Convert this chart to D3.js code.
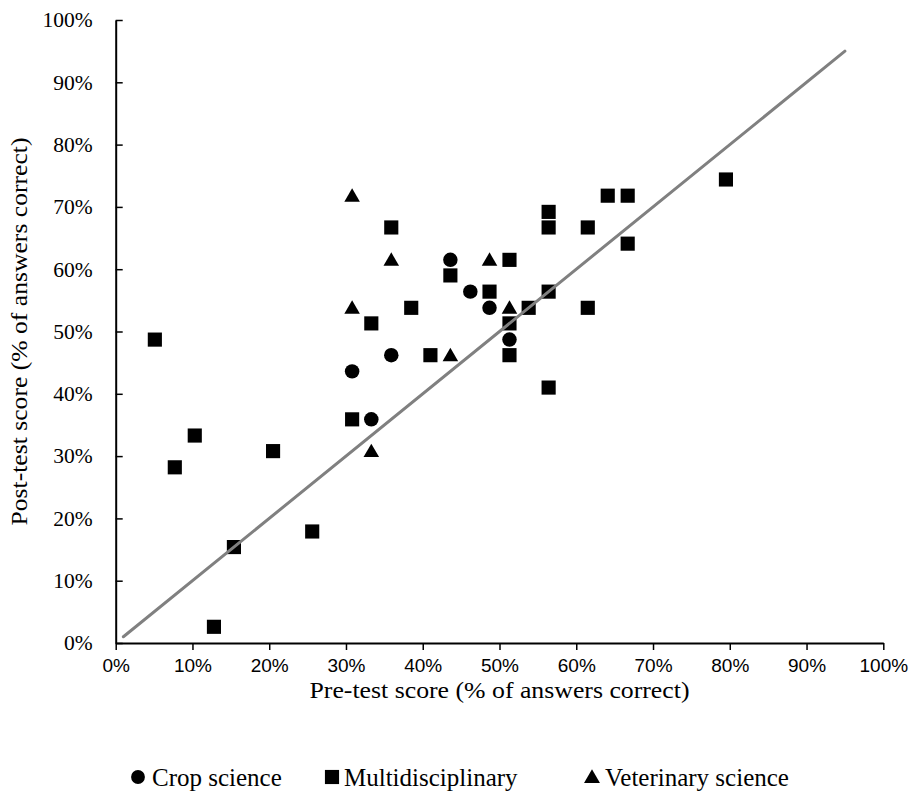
<!DOCTYPE html>
<html>
<head>
<meta charset="utf-8">
<script src="https://cdn.jsdelivr.net/npm/d3@7"></script>
<style>
  body { margin: 0; background: #fff; }
</style>
</head>
<body>
<div id="output"></div>
<script>
// Pre-test vs post-test scores (% of answers correct), by group
const cropPre  = [43.6, 46.2, 48.7, 51.3, 35.9, 30.8, 33.3];
const cropPost = [61.5, 56.4, 53.8, 48.7, 46.2, 43.6, 35.9];

const multiPre  = [5.1, 10.3, 7.7, 20.5, 15.4, 25.6, 12.8, 35.9, 43.6, 51.3, 56.4, 56.4, 48.7, 56.4,
                   38.5, 53.8, 33.3, 51.3, 51.3, 41.0, 56.4, 30.8, 79.5, 64.1, 66.7, 61.5, 66.7, 61.5];
const multiPost = [48.7, 33.3, 28.2, 30.8, 15.4, 17.9, 2.6, 66.7, 59.0, 61.5, 69.2, 66.7, 56.4, 56.4,
                   53.8, 53.8, 51.3, 51.3, 46.2, 46.2, 41.0, 35.9, 74.4, 71.8, 71.8, 66.7, 64.1, 53.8];

const vetPre  = [30.8, 35.9, 48.7, 30.8, 51.3, 43.6, 33.3];
const vetPost = [71.8, 61.5, 61.5, 53.8, 53.8, 46.2, 30.8];

// reference line y = x
const refLine = [1, 95];

const tickValues = [0, 10, 20, 30, 40, 50, 60, 70, 80, 90, 100];
const seriesNames = ["Crop science", "Multidisciplinary", "Veterinary science"];

function PlotGraph(parent_element = "output") {
  const width = 910, height = 793;
  const serif = "'Liberation Serif', 'Times New Roman', serif";
  const sans = "'Liberation Sans', Arial, sans-serif";

  const x = d3.scaleLinear().domain([0, 100]).range([115.7, 883.3]);
  const y = d3.scaleLinear().domain([0, 100]).range([643, 20]);

  const svg = d3.select("#" + parent_element).append("svg")
    .attr("width", width)
    .attr("height", height);

  // markers
  const shapes = [d3.symbolCircle, d3.symbolSquare, d3.symbolTriangle];
  const sizes = [165, 200, 105];
  const series = [
    {pre: cropPre, post: cropPost},
    {pre: multiPre, post: multiPost},
    {pre: vetPre, post: vetPost}
  ];

  series.forEach((s, k) => {
    const pts = s.pre.map((v, i) => [v, s.post[i]]);
    svg.append("g").selectAll("path")
      .data(pts)
      .enter().append("path")
      .attr("d", d3.symbol().type(shapes[k]).size(sizes[k]))
      .attr("transform", d => `translate(${x(d[0])},${y(d[1])})` + (k === 2 ? " translate(0,1.5)" : ""))
      .attr("fill", "#000");
  });

  // reference line
  svg.append("path")
    .datum(refLine)
    .attr("d", d3.line().x(d => x(d)).y(d => y(d)))
    .attr("fill", "none")
    .attr("stroke", "#808080")
    .attr("stroke-width", 3)
    .attr("stroke-linecap", "round");

  // X axis
  const xAxis = svg.append("g")
    .attr("transform", `translate(0,${y(0)})`)
    .call(d3.axisBottom(x).tickValues(tickValues).tickSizeInner(7).tickSizeOuter(0)
      .tickFormat(d => d + "%"));
  xAxis.select(".domain").attr("stroke", "#000").attr("stroke-width", 2);
  xAxis.selectAll(".tick line").attr("stroke", "#000").attr("stroke-width", 1.5);
  xAxis.selectAll(".tick text")
    .attr("y", 16)
    .attr("fill", "#000")
    .style("font-family", sans)
    .style("font-size", "19px");

  // Y axis (ticks point inward)
  const yAxis = svg.append("g")
    .attr("transform", `translate(${x(0)},0)`)
    .call(d3.axisLeft(y).tickValues(tickValues).tickSizeInner(-7).tickSizeOuter(0)
      .tickFormat(d => d + "%"));
  yAxis.select(".domain").attr("stroke", "#000").attr("stroke-width", 2);
  yAxis.selectAll(".tick line").attr("stroke", "#000").attr("stroke-width", 1.5);
  yAxis.selectAll(".tick text")
    .attr("x", -23)
    .attr("fill", "#000")
    .style("font-family", serif)
    .style("font-size", "21.5px");

  // X axis label
  svg.append("text")
    .attr("x", (x(0) + x(100)) / 2)
    .attr("y", 698)
    .attr("text-anchor", "middle")
    .attr("textLength", 380)
    .attr("lengthAdjust", "spacingAndGlyphs")
    .style("font-family", serif)
    .style("font-size", "23.5px")
    .text("Pre-test score (% of answers correct)");

  // Y axis label
  svg.append("text")
    .attr("transform", `translate(27,${(y(0) + y(100)) / 2}) rotate(-90)`)
    .attr("text-anchor", "middle")
    .attr("textLength", 388)
    .attr("lengthAdjust", "spacingAndGlyphs")
    .style("font-family", serif)
    .style("font-size", "23.5px")
    .text("Post-test score (% of answers correct)");

  // legend
  const legX = [138, 332, 592];
  const legend = svg.selectAll(".legend")
    .data(seriesNames)
    .enter().append("g")
    .attr("class", "legend")
    .attr("transform", (d, i) => `translate(${legX[i]},777)`);

  legend.append("path")
    .attr("d", (d, i) => d3.symbol().type(shapes[i]).size([150, 200, 110][i])())
    .attr("transform", (d, i) => i === 2 ? "translate(0,1.5)" : null)
    .attr("fill", "#000");

  legend.append("text")
    .attr("x", (d, i) => [14, 12, 13][i])
    .attr("y", 8.5)
    .style("font-family", serif)
    .style("font-size", "25px")
    .text(d => d);
}

document.addEventListener('DOMContentLoaded', (event) => {
  PlotGraph();
});
</script>
</body>
</html>
